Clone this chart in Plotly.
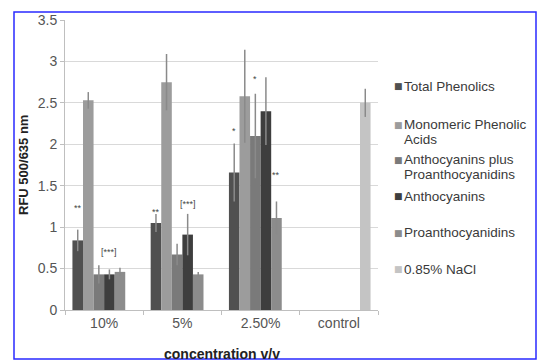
import plotly.graph_objects as go

# Concentration groups on the x axis
categories = ["10%", "5%", "2.50%", "control"]

# Mean RFU 500/635 nm per series (None where the series was not measured)
total_phenolics = [0.84, 1.05, 1.66, None]
monomeric_acids = [2.53, 2.75, 2.58, None]
antho_plus_proantho = [0.43, 0.67, 2.10, None]
anthocyanins = [0.43, 0.91, 2.40, None]
proanthocyanidins = [0.46, 0.43, 1.11, None]
nacl = [None, None, None, 2.50]

# Standard deviations
err_total_phenolics = [0.13, 0.11, 0.35, None]
err_monomeric_acids = [0.10, 0.34, 0.56, None]
err_antho_plus_proantho = [0.11, 0.13, 0.51, None]
err_anthocyanins = [0.06, 0.25, 0.41, None]
err_proanthocyanidins = [0.05, 0.03, 0.20, None]
err_nacl = [None, None, None, 0.17]

series_names = ["Total Phenolics", "Monomeric Phenolic Acids", "Anthocyanins plus Proanthocyanidins",
                "Anthocyanins", "Proanthocyanidins", "0.85% NaCl"]
series_values = [total_phenolics, monomeric_acids, antho_plus_proantho,
                 anthocyanins, proanthocyanidins, nacl]
series_errors = [err_total_phenolics, err_monomeric_acids, err_antho_plus_proantho,
                 err_anthocyanins, err_proanthocyanidins, err_nacl]
series_colors = ["#505050", "#9c9c9c", "#7a7a7a", "#3e3e3e", "#8c8c8c", "#c4c4c4"]

# Significance marks: (category index, series index, value level, label)
sig_marks = [
    (0, 0, 1.23, "**"), (0, 3, 0.70, "[***]"),
    (1, 0, 1.18, "**"), (1, 3, 1.28, "[***]"),
    (2, 0, 2.16, "*"), (2, 2, 2.79, "*"), (2, 4, 1.63, "**"),
]

W, H = 543, 361
L, R, T, B = 65, 165, 17, 51
BARGAP = 0.19
N = len(series_names)
FONT = "Liberation Sans, Arial, sans-serif"


def px_x(px):
    return (px - L) / (W - L - R)


def px_y(py):
    return (H - B - py) / (H - T - B)


fig = go.Figure()
for name, vals, errs, col in zip(series_names, series_values, series_errors, series_colors):
    fig.add_trace(go.Bar(
        x=categories, y=vals, name=name, marker=dict(color=col, line=dict(width=0)),
        error_y=dict(type="data", array=errs, visible=True, color="#8a8a8a",
                     thickness=1.5, width=0),
        showlegend=False,
    ))

annotations = []
for ci, si, level, label in sig_marks:
    xpos = ci + (si - (N - 1) / 2) * (1 - BARGAP) / N
    annotations.append(dict(x=xpos, y=level, xref="x", yref="y", text=label, showarrow=False,
                            xanchor="center", yanchor="middle",
                            font=dict(family=FONT, size=9, color="#444444")))

# Axis titles
annotations.append(dict(x=px_x(23), y=0.5, xref="paper", yref="paper", text="<b>RFU 500/635 nm</b>",
                        textangle=-90, showarrow=False, xanchor="center", yanchor="middle",
                        font=dict(family=FONT, size=13, color="#222222")))
annotations.append(dict(x=0.5, y=px_y(354), xref="paper", yref="paper", text="<b>concentration v/v</b>",
                        showarrow=False, xanchor="center", yanchor="middle",
                        font=dict(family=FONT, size=14, color="#222222")))

# Legend drawn as text rows
legend_rows = [
    (0, ["Total Phenolics"], [84]),
    (1, ["Monomeric Phenolic", "Acids"], [123, 138]),
    (2, ["Anthocyanins plus", "Proanthocyanidins"], [158, 173]),
    (3, ["Anthocyanins"], [195]),
    (4, ["Proanthocyanidins"], [232]),
    (5, ["0.85% NaCl"], [269]),
]
for si, lines, ys in legend_rows:
    annotations.append(dict(x=px_x(392), y=px_y(ys[0]), xref="paper", yref="paper", text="■",
                            xanchor="left", yanchor="middle", showarrow=False,
                            font=dict(family="DejaVu Sans", size=9, color=series_colors[si])))
    for line, yy in zip(lines, ys):
        annotations.append(dict(x=px_x(403), y=px_y(yy), xref="paper", yref="paper", text=line,
                                xanchor="left", yanchor="middle", showarrow=False, borderpad=0,
                                font=dict(family=FONT, size=13.5, color="#3a3a3a")))

fig.update_layout(
    width=W, height=H, margin=dict(l=L, r=R, t=T, b=B),
    paper_bgcolor="white", plot_bgcolor="white",
    barmode="group", bargap=BARGAP, bargroupgap=0,
    font=dict(family=FONT, size=14, color="#555555"),
    annotations=annotations,
    shapes=[dict(type="rect", xref="paper", yref="paper",
                 x0=px_x(14), x1=px_x(536), y0=px_y(359.5), y1=px_y(9),
                 line=dict(color="#2a2aff", width=1.5), layer="above")],
)
fig.update_xaxes(type="category", showgrid=False, showline=True, linecolor="#bfbfbf", linewidth=1,
                 ticks="outside", tickson="boundaries", ticklen=4, tickcolor="#bfbfbf",
                 tickfont=dict(family=FONT, size=14, color="#555555"))
fig.update_yaxes(range=[0, 3.5], dtick=0.5, showgrid=True, gridcolor="#d9d9d9", gridwidth=1,
                 showline=True, linecolor="#bfbfbf", linewidth=1, ticks="outside", ticklen=4,
                 tickcolor="#bfbfbf", zeroline=False,
                 tickfont=dict(family=FONT, size=14, color="#555555"))

fig.write_html("out.html")
